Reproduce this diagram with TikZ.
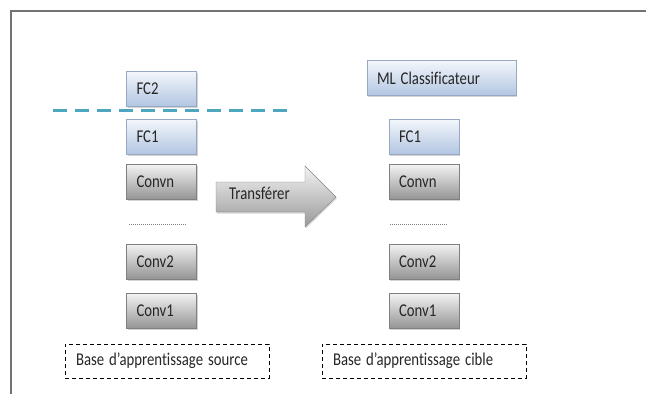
\documentclass[tikz,border=0pt]{standalone}
\usepackage{fontspec}
\setmainfont[Ligatures=NoCommon]{Carlito}
\usetikzlibrary{shadows}

\definecolor{fcfill}{RGB}{178,198,226}
\definecolor{fcline}{RGB}{150,168,196}
\definecolor{cvline}{RGB}{128,128,128}
\definecolor{cut}{RGB}{75,166,190}
\newcommand\sq[1]{\scalebox{0.82}[1]{#1}}

\begin{document}
\begin{tikzpicture}[x=1pt,y=-1pt,
    font=\fontsize{18}{20}\selectfont,text=black!85,
    layer/.style={minimum height=35pt,text width=50pt,inner xsep=10pt,align=left,
        drop shadow={opacity=0.35,shadow xshift=1pt,shadow yshift=-1.5pt}},
    fc/.style={layer,draw=fcline,top color=white!85!fcfill,bottom color=fcfill},
    cv/.style={layer,draw=cvline,top color=white!95!black,bottom color=black!42},
    base/.style={draw,dashed,dash pattern=on 4pt off 3pt,line width=1pt,
        minimum height=34pt,text width=182pt,inner xsep=11pt,align=left}]
    \useasboundingbox (0,0) rectangle (646,394);
    \draw[black!55,line width=1.5pt] (11,394) -- (11,11) -- (646,11);

    % source network
    \node[fc] (fc2) at (161.5,88.5) {\sq{FC2}};
    \node[fc] (fc1s) at (161.5,136.5) {\sq{FC1}};
    \node[cv] (cvns) at (161.5,182) {\sq{Convn}};
    \node[cv] (cv2s) at (161.5,261.5) {\sq{Conv2}};
    \node[cv] (cv1s) at (161.5,311) {\sq{Conv1}};
    \node[base] (bs) at (167,361) {\sq{Base d'apprentissage source}};
    \draw[black!50,line width=1pt,dash pattern=on 1pt off 1pt] (129,224) -- (187,224);
    \draw[cut,line width=3pt,dash pattern=on 14pt off 8pt] (53,110) -- (287,110);

    % transfer arrow
    \draw[cvline,top color=white!95!black,bottom color=black!40,
        drop shadow={opacity=0.3,shadow xshift=1pt,shadow yshift=-1.5pt}]
        (216,182) -- (305,182) -- (305,166) -- (336,197) -- (305,227) -- (305,212) -- (216,212) -- cycle;
    \node[anchor=west,inner sep=0pt] (tr) at (229,193) {\sq{Transférer}};

    % target network
    \node[fc,text width=129pt] (mlc) at (441.5,78) {\sq{ML Classificateur}};
    \node[fc] (fc1t) at (424,136.5) {\sq{FC1}};
    \node[cv] (cvnt) at (424,182) {\sq{Convn}};
    \node[cv] (cv2t) at (424,261.5) {\sq{Conv2}};
    \node[cv] (cv1t) at (424,311) {\sq{Conv1}};
    \node[base] (bt) at (424,361) {\sq{Base d'apprentissage cible}};
    \draw[black!50,line width=1pt,dash pattern=on 1pt off 1pt] (390,224) -- (448,224);
\end{tikzpicture}
\end{document}
